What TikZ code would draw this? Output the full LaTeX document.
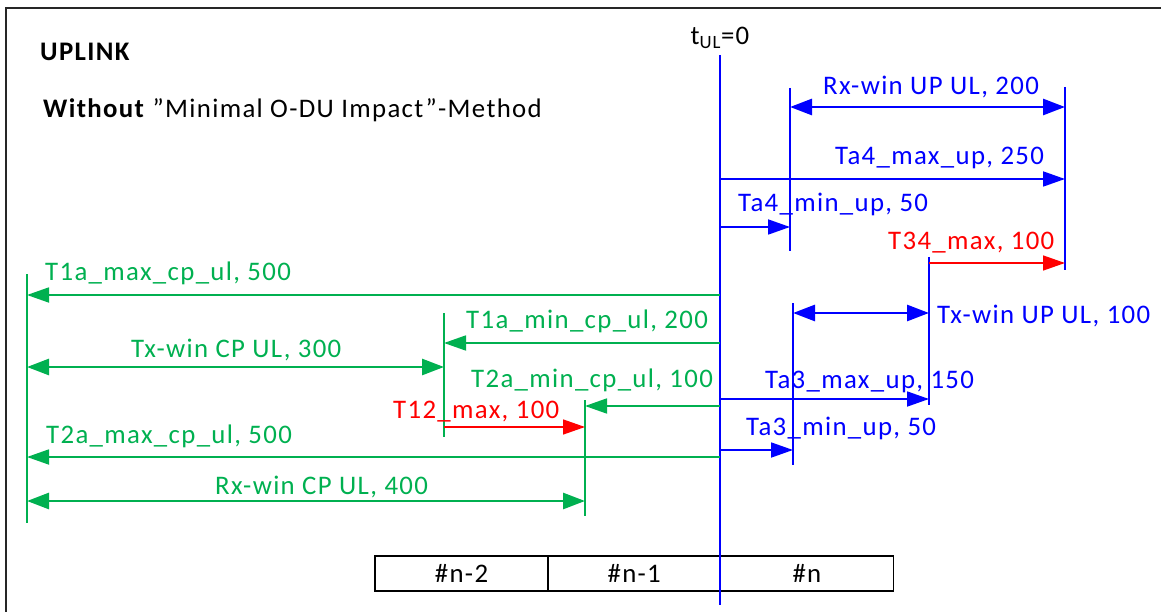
\documentclass[tikz,border=0pt]{standalone}
\usepackage{fontspec}
\setmainfont{Carlito}[LetterSpace=5]
\usetikzlibrary{arrows.meta,positioning}
\definecolor{ulblue}{RGB}{0,0,255}
\definecolor{ulgreen}{RGB}{0,176,80}
\definecolor{ulred}{RGB}{255,0,0}
\tikzset{
  tick/.style={line width=2.2pt},
  oneway/.style={line width=1.8pt, -{Triangle[length=22pt,width=15pt]}},
  twoway/.style={line width=2.8pt, {Triangle[length=22pt,width=16pt]}-{Triangle[length=22pt,width=16pt]}},
  lbl/.style={anchor=base west, inner sep=0pt, font=\fontsize{26.8}{30}\selectfont},
  slot/.style={draw, line width=1.5pt, minimum width=172.7pt, minimum height=35pt, inner sep=0pt, outer sep=0pt, font=\fontsize{26.8}{30}\selectfont},
}
\begin{document}
\begin{tikzpicture}[x=1pt,y=-1pt]
    \useasboundingbox (0,0) rectangle (1161,612);
    \draw[line width=1.8pt, black!85] (6,613) -- (6,8) -- (1162,8);

    \node[lbl, font=\bfseries\fontsize{26.8}{30}\selectfont] (uplink) at (40,61) {UPLINK};
    \node[lbl] (method) at (43,118) {\textbf{Without} ”Minimal O-DU Impact”-Method};

    % symbol slots
    \node[slot] (sn2) at (461.5,573.5) {\#n-2};
    \node[slot, right=0pt of sn2] (sn1) {\#n-1};
    \node[slot, right=0pt of sn1] (sn0) {\#n};

    % time zero
    \coordinate (t0-t) at (720,55);
    \coordinate (t0-b) at (720,605);
    \node[lbl, anchor=base] (tul) at (720,45) {t\textsubscript{UL}=0};

    % user plane markers
    \coordinate (rxupL-t) at (790,88);   \coordinate (rxupL-b) at (790,251);
    \coordinate (rxupR-t) at (1065,87);  \coordinate (rxupR-b) at (1065,270);
    \coordinate (txupR-t) at (929,257);  \coordinate (txupR-b) at (929,405);
    \coordinate (txupL-t) at (793,303);  \coordinate (txupL-b) at (793,465);
    \foreach \m in {rxupL,rxupR,txupR,txupL}
        \draw[tick, ulblue] (\m-t) -- (\m-b);

    % control plane markers
    \coordinate (cpA-t) at (27,274);   \coordinate (cpA-b) at (27,523);
    \coordinate (cpB-t) at (444,313);  \coordinate (cpB-b) at (444,437);
    \coordinate (cpC-t) at (585,400);  \coordinate (cpC-b) at (585,516);
    \foreach \m in {cpA,cpB,cpC}
        \draw[tick, ulgreen] (\m-t) -- (\m-b);

    \draw[ulblue, line width=2.8pt] (t0-t) -- (t0-b);

    % user plane
    \coordinate (rxup) at (790,107);
    \draw[twoway, ulblue] (rxup) -- (rxup -| rxupR-t);
    \node[lbl, ulblue] (rxupl) at (823,95) {Rx-win UP UL, 200};
    \coordinate (ta4max) at (720,179);
    \draw[oneway, ulblue] (ta4max) -- (ta4max -| rxupR-t);
    \node[lbl, ulblue] (ta4maxl) at (835,165) {Ta4\_max\_up, 250};
    \coordinate (ta4min) at (720,227);
    \draw[oneway, ulblue] (ta4min) -- (ta4min -| rxupL-t);
    \node[lbl, ulblue] (ta4minl) at (738,212) {Ta4\_min\_up, 50};
    \coordinate (t34) at (929,263);
    \draw[oneway, ulred, line width=1.5pt] (t34) -- (t34 -| rxupR-t);
    \node[lbl, ulred] (t34l) at (888,250) {T34\_max, 100};
    \coordinate (txup) at (793,313);
    \draw[twoway, ulblue] (txup) -- (txup -| txupR-t);
    \node[lbl, ulblue] (txupl) at (937,323) {Tx-win UP UL, 100};
    \coordinate (ta3max) at (720,399);
    \draw[oneway, ulblue] (ta3max) -- (ta3max -| txupR-t);
    \node[lbl, ulblue] (ta3maxl) at (765,388) {Ta3\_max\_up, 150};
    \coordinate (ta3min) at (720,450);
    \draw[oneway, ulblue] (ta3min) -- (ta3min -| txupL-t);
    \node[lbl, ulblue] (ta3minl) at (746,435) {Ta3\_min\_up, 50};

    % control plane
    \coordinate (t1amax) at (720,295);
    \draw[oneway, ulgreen] (t1amax) -- (t1amax -| cpA-t);
    \node[lbl, ulgreen] (t1amaxl) at (45,280) {T1a\_max\_cp\_ul, 500};
    \coordinate (t1amin) at (720,343);
    \draw[oneway, ulgreen] (t1amin) -- (t1amin -| cpB-t);
    \node[lbl, ulgreen] (t1aminl) at (466,328) {T1a\_min\_cp\_ul, 200};
    \coordinate (txcp) at (27,367);
    \draw[twoway, ulgreen] (txcp) -- (txcp -| cpB-t);
    \node[lbl, ulgreen] (txcpl) at (131,357) {Tx-win CP UL, 300};
    \coordinate (t2amin) at (720,406);
    \draw[oneway, ulgreen] (t2amin) -- (t2amin -| cpC-t);
    \node[lbl, ulgreen] (t2aminl) at (471,387) {T2a\_min\_cp\_ul, 100};
    \coordinate (t12) at (444,427);
    \draw[oneway, ulred, line width=1.5pt] (t12) -- (t12 -| cpC-t);
    \node[lbl, ulred] (t12l) at (393,418) {T12\_max, 100};
    \coordinate (t2amax) at (720,457);
    \draw[oneway, ulgreen] (t2amax) -- (t2amax -| cpA-t);
    \node[lbl, ulgreen] (t2amaxl) at (46,443) {T2a\_max\_cp\_ul, 500};
    \coordinate (rxcp) at (27,501);
    \draw[twoway, ulgreen] (rxcp) -- (rxcp -| cpC-t);
    \node[lbl, ulgreen] (rxcpl) at (215,494) {Rx-win CP UL, 400};
\end{tikzpicture}
\end{document}
